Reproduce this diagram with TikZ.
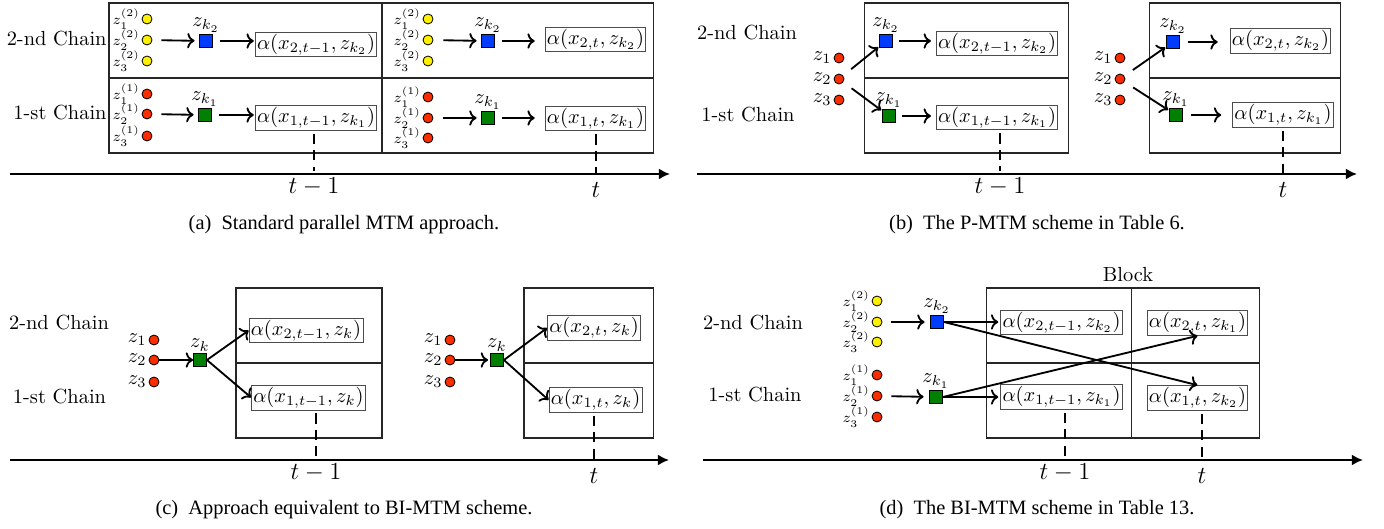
\documentclass[tikz,border=0pt]{standalone}
\usepackage{fontspec}
\newfontfamily\capfont{Liberation Serif}
\usetikzlibrary{arrows.meta}
\definecolor{zyellow}{RGB}{255,240,0}
\definecolor{zred}{RGB}{250,45,0}
\definecolor{zblue}{RGB}{0,60,255}
\definecolor{zgreen}{RGB}{0,128,0}
\begin{document}
\begin{tikzpicture}[x=0.49pt,y=-0.49pt,label distance=0.3pt]
\tikzstyle{ydot}=[draw,shape=circle,fill=zyellow,inner sep=0pt,minimum size=4.9pt]
\tikzstyle{rdot}=[draw,shape=circle,fill=zred,inner sep=0pt,minimum size=4.9pt]
\tikzstyle{bsq}=[draw,fill=zblue,inner sep=0pt,minimum size=6.4pt]
\tikzstyle{gsq}=[draw,fill=zgreen,inner sep=0pt,minimum size=6.4pt]
\tikzstyle{abox}=[draw=black!70,inner sep=0.9pt]
\tikzstyle{sml}=[font=\scriptsize,inner sep=0.3pt]
\tikzstyle{lbl}=[inner sep=0.5pt]
\tikzstyle{arr}=[->,line width=0.9pt]
\tikzstyle{tick}=[line width=0.9pt,dash pattern=on 5pt off 3pt]
\tikzstyle{axis}=[line width=1.1pt,-{Latex[length=5.5pt,width=5.5pt]}]
\tikzstyle{frame}=[draw=black!85,line width=0.5pt]
\tikzstyle{tlbl}=[font=\fontsize{12}{14}\selectfont]
\tikzstyle{captxt}=[font=\capfont]
\useasboundingbox (0,0) rectangle (1384,529);

% (a) standard parallel MTM
\draw[frame] (109,3) rectangle (653,153);
\draw[frame] (109,78) -- (653,78);
\draw[frame] (382,3) -- (382,153);
\node[anchor=east,inner sep=1pt] at (109,39) (achtwo) {2-nd Chain};
\node[anchor=east,inner sep=1pt] at (109,113) (achone) {1-st Chain};
\node[ydot,label distance=2pt,label={[sml]left:$z_1^{(2)}$}] at (147,19) (ay1L) {};
\node[ydot,label distance=2pt,label={[sml]left:$z_2^{(2)}$}] at (147,40) (ay2L) {};
\node[ydot,label distance=2pt,label={[sml]left:$z_3^{(2)}$}] at (147,61) (ay3L) {};
\node[rdot,label distance=2pt,label={[sml]left:$z_1^{(1)}$}] at (147,94) (ar1L) {};
\node[rdot,label distance=2pt,label={[sml]left:$z_2^{(1)}$}] at (147,114) (ar2L) {};
\node[rdot,label distance=2pt,label={[sml]left:$z_3^{(1)}$}] at (147,136) (ar3L) {};
\node[bsq,label={[lbl]above:$z_{k_2}$}] at (206,41) (ablueL) {};
\node[gsq,label={[lbl]above:$z_{k_1}$}] at (205,115) (agreenL) {};
\node[abox] at (316,44.5) (aboxtwoL) {$\alpha(x_{2,t-1},z_{k_2})$};
\node[abox] at (316,118) (aboxoneL) {$\alpha(x_{1,t-1},z_{k_1})$};
\node[ydot,label distance=2pt,label={[sml]left:$z_1^{(2)}$}] at (428,19) (ay1R) {};
\node[ydot,label distance=2pt,label={[sml]left:$z_2^{(2)}$}] at (428,40) (ay2R) {};
\node[ydot,label distance=2pt,label={[sml]left:$z_3^{(2)}$}] at (428,61) (ay3R) {};
\node[rdot,label distance=2pt,label={[sml]left:$z_1^{(1)}$}] at (428,97) (ar1R) {};
\node[rdot,label distance=2pt,label={[sml]left:$z_2^{(1)}$}] at (428,118) (ar2R) {};
\node[rdot,label distance=2pt,label={[sml]left:$z_3^{(1)}$}] at (428,138) (ar3R) {};
\node[bsq,label={[lbl]above:$z_{k_2}$}] at (488,41) (ablueR) {};
\node[gsq,label={[lbl]above:$z_{k_1}$}] at (488,118) (agreenR) {};
\node[abox] at (595.5,39.5) (aboxtwoR) {$\alpha(x_{2,t},z_{k_2})$};
\node[abox] at (595.5,118.5) (aboxoneR) {$\alpha(x_{1,t},z_{k_1})$};
\draw[arr,shorten <=4.4pt,shorten >=2.2pt] (ay2L) -- (ablueL);
\draw[arr,shorten <=4.4pt,shorten >=2.2pt] (ar2L) -- (agreenL);
\draw[arr,shorten <=3.7pt,shorten >=0.5pt] (ablueL) -- (ablueL -| aboxtwoL.west);
\draw[arr,shorten <=3.7pt,shorten >=0.5pt] (agreenL) -- (agreenL -| aboxoneL.west);
\draw[arr,shorten <=4.9pt,shorten >=2.2pt] (ay2R) -- (ablueR);
\draw[arr,shorten <=4.9pt,shorten >=2.2pt] (ar2R) -- (agreenR);
\draw[arr,shorten <=3.7pt,shorten >=4.9pt] (ablueR) -- (ablueR -| aboxtwoR.west);
\draw[arr,shorten <=3.7pt,shorten >=4.9pt] (agreenR) -- (agreenR -| aboxoneR.west);
\coordinate (aaxl) at (10,174);
\coordinate (aaxr) at (670,174);
\draw[axis] (aaxl) -- (aaxr);
\node[tlbl] at (314,187) (atL) {$t-1$};
\node[tlbl] at (596,190) (atR) {$t$};
\draw[tick,shorten <=1.5pt] (atL.north |- aboxoneL.south) -- (atL.north);
\draw[tick,shorten <=1.5pt] (atR.north |- aboxoneR.south) -- (atR.north);
\node[captxt] at (344,225) (capa) {(a)\enspace Standard parallel MTM approach.};

% (b) P-MTM
\node at (747,33) (bchtwo) {2-nd Chain};
\node at (748,115) (bchone) {1-st Chain};
\draw[frame] (864,3) rectangle (1068,153);
\draw[frame] (864,78) -- (1068,78);
\draw[frame] (1149,3) rectangle (1340,153);
\draw[frame] (1149,78) -- (1340,78);
\node[rdot,label={[lbl]left:$z_1$}] at (839,58) (br1L) {};
\node[rdot,label={[lbl]left:$z_2$}] at (839,79) (br2L) {};
\node[rdot,label={[lbl]left:$z_3$}] at (839,100) (br3L) {};
\node[bsq,label={[lbl]above:$z_{k_2}$}] at (886,41) (bblueL) {};
\node[gsq,label={[lbl]above:$z_{k_1}$}] at (889,116) (bgreenL) {};
\node[abox] at (997,43.5) (bboxtwoL) {$\alpha(x_{2,t-1},z_{k_2})$};
\node[abox] at (997,117.5) (bboxoneL) {$\alpha(x_{1,t-1},z_{k_1})$};
\node[rdot,label={[lbl]left:$z_1$}] at (1120,58) (br1R) {};
\node[rdot,label={[lbl]left:$z_2$}] at (1120,79) (br2R) {};
\node[rdot,label={[lbl]left:$z_3$}] at (1120,100) (br3R) {};
\node[bsq,label={[lbl]above:$z_{k_2}$}] at (1173,42) (bblueR) {};
\node[gsq,label={[lbl]above:$z_{k_1}$}] at (1176,115) (bgreenR) {};
\node[abox] at (1280.5,41) (bboxtwoR) {$\alpha(x_{2,t},z_{k_2})$};
\node[abox] at (1283,115) (bboxoneR) {$\alpha(x_{1,t},z_{k_1})$};
\draw[arr,shorten <=5pt,shorten >=0.5pt] (br2L) -- (bblueL);
\draw[arr,shorten <=5pt,shorten >=0.5pt] (br2L) -- (bgreenL);
\draw[arr,shorten <=3.2pt,shorten >=2.4pt] (bblueL) -- (bblueL -| bboxtwoL.west);
\draw[arr,shorten <=3.2pt,shorten >=2.4pt] (bgreenL) -- (bgreenL -| bboxoneL.west);
\draw[arr,shorten <=5pt,shorten >=0.5pt] (br2R) -- (bblueR);
\draw[arr,shorten <=5pt,shorten >=0.5pt] (br2R) -- (bgreenR);
\draw[arr,shorten <=3.7pt,shorten >=5.9pt] (bblueR) -- (bblueR -| bboxtwoR.west);
\draw[arr,shorten <=3.7pt,shorten >=5.4pt] (bgreenR) -- (bgreenR -| bboxoneR.west);
\coordinate (baxl) at (697,174);
\coordinate (baxr) at (1357,174);
\draw[axis] (baxl) -- (baxr);
\node[tlbl] at (1000,187) (btL) {$t-1$};
\node[tlbl] at (1283,190) (btR) {$t$};
\draw[tick,shorten <=1.5pt] (btL.north |- bboxoneL.south) -- (btL.north);
\draw[tick,shorten <=1.5pt] (btR.north |- bboxoneR.south) -- (btR.north);
\node[captxt] at (1037,225) (capb) {(b)\enspace The P-MTM scheme in Table 6.};

% (c) equivalent to BI-MTM
\node at (59,323) (cchtwo) {2-nd Chain};
\node at (59.5,397) (cchone) {1-st Chain};
\draw[frame] (236,288) rectangle (382,438);
\draw[frame] (236,363) -- (382,363);
\draw[frame] (524,288) rectangle (653,438);
\draw[frame] (524,363) -- (653,363);
\node[rdot,label={[lbl]left:$z_1$}] at (154,340) (cr1L) {};
\node[rdot,label={[lbl]left:$z_2$}] at (154,360) (cr2L) {};
\node[rdot,label={[lbl]left:$z_3$}] at (154,382) (cr3L) {};
\node[gsq,label={[lbl]above:$z_k$}] at (200,360) (cgreenL) {};
\node[abox] at (306,330.5) (cboxtwoL) {$\alpha(x_{2,t-1},z_k)$};
\node[abox] at (308.5,397.5) (cboxoneL) {$\alpha(x_{1,t-1},z_k)$};
\node[rdot,label={[lbl]left:$z_1$}] at (450,340) (cr1R) {};
\node[rdot,label={[lbl]left:$z_2$}] at (450,360) (cr2R) {};
\node[rdot,label={[lbl]left:$z_3$}] at (450,382) (cr3R) {};
\node[gsq,label={[lbl]above:$z_k$}] at (497,360) (cgreenR) {};
\node[abox] at (594,328) (cboxtwoR) {$\alpha(x_{2,t},z_k)$};
\node[abox] at (595.5,400) (cboxoneR) {$\alpha(x_{1,t},z_k)$};
\draw[arr] (cr2L) -- (cgreenL);
\draw[arr] (cgreenL.east) -- (cboxtwoL.west);
\draw[arr] (cgreenL.east) -- (cboxoneL.west);
\draw[arr,shorten >=1pt] (cr2R) -- (cgreenR);
\draw[arr] (cgreenR.east) -- (cboxtwoR.west);
\draw[arr] (cgreenR.east) -- (cboxoneR.west);
\coordinate (caxl) at (10,460);
\coordinate (caxr) at (669,460);
\draw[axis] (caxl) -- (caxr);
\node[tlbl] at (316,473) (ctL) {$t-1$};
\node[tlbl] at (594,476) (ctR) {$t$};
\draw[tick,shorten <=1.5pt] (ctL.north |- cboxoneL.south) -- (ctL.north);
\draw[tick,shorten <=1.5pt] (ctR.north |- cboxoneR.south) -- (ctR.north);
\node[captxt] at (344,510) (capc) {(c)\enspace Approach equivalent to BI-MTM scheme.};

% (d) BI-MTM
\node at (753,323) (dchtwo) {2-nd Chain};
\node at (755,395) (dchone) {1-st Chain};
\draw[frame] (986,288) rectangle (1259,438);
\draw[frame] (986,363) -- (1259,363);
\draw[frame] (1131,288) -- (1131,438);
\node at (1128,275) (dblock) {Block};
\node[ydot,label={[sml]left:$z_1^{(2)}$}] at (877,301) (dy1) {};
\node[ydot,label={[sml]left:$z_2^{(2)}$}] at (877,322) (dy2) {};
\node[ydot,label={[sml]left:$z_3^{(2)}$}] at (877,342) (dy3) {};
\node[rdot,label={[sml]left:$z_1^{(1)}$}] at (877,375) (dr1) {};
\node[rdot,label={[sml]left:$z_2^{(1)}$}] at (877,396) (dr2) {};
\node[rdot,label={[sml]left:$z_3^{(1)}$}] at (877,417) (dr3) {};
\node[bsq,label={[lbl]above:$z_{k_2}$}] at (937,322) (dblue) {};
\node[gsq,label={[lbl]above:$z_{k_1}$}] at (936,397) (dgreen) {};
\node[abox] at (1061.5,322.5) (dboxtwoL) {$\alpha(x_{2,t-1},z_{k_2})$};
\node[abox] at (1061.5,397) (dboxoneL) {$\alpha(x_{1,t-1},z_{k_1})$};
\node[abox] at (1197.5,323) (dboxtwoR) {$\alpha(x_{2,t},z_{k_1})$};
\node[abox] at (1197.5,398) (dboxoneR) {$\alpha(x_{1,t},z_{k_2})$};
\draw[arr,shorten <=4.4pt,shorten >=2.7pt] (dy2) -- (dblue);
\draw[arr,shorten <=4.4pt,shorten >=2.7pt] (dr2) -- (dgreen);
\draw[arr,shorten >=1pt] (dblue) -- (dblue -| dboxtwoL.west);
\draw[arr,shorten >=1pt] (dgreen) -- (dgreen -| dboxoneL.west);
\draw[arr] (dblue.east) -- (dboxoneR.north);
\draw[arr] (dgreen.east) -- (dboxtwoR.south);
\coordinate (daxl) at (703,460);
\coordinate (daxr) at (1363,460);
\draw[axis] (daxl) -- (daxr);
\node[tlbl] at (1065,473) (dtL) {$t-1$};
\node[tlbl] at (1202,476) (dtR) {$t$};
\draw[tick,shorten <=1.5pt] (dtL.north |- dboxoneL.south) -- (dtL.north);
\draw[tick,shorten <=1.5pt] (dtR.north |- dboxoneR.south) -- (dtR.north);
\node[captxt] at (1037,510) (capd) {(d)\enspace The BI-MTM scheme in Table 13.};
\end{tikzpicture}
\end{document}
